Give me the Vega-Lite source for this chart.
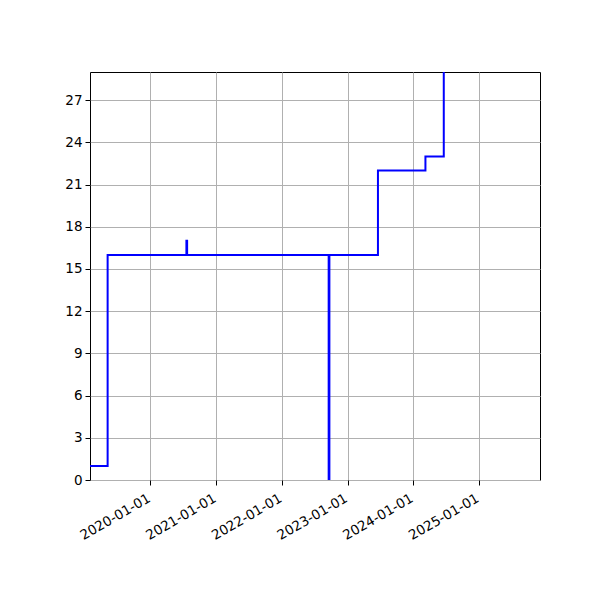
{
  "$schema": "https://vega.github.io/schema/vega-lite/v6.json",
  "autosize": {"type": "none"},
  "padding": {"left": 90, "top": 72, "right": 60, "bottom": 120},
  "width": 450,
  "height": 408,
  "background": "white",
  "config": {
    "view": {"stroke": "black", "strokeWidth": 1},
    "font": "DejaVu Sans",
    "axis": {
      "labelFont": "DejaVu Sans",
      "labelFontSize": 13.5,
      "labelColor": "black",
      "domain": false,
      "tickColor": "black",
      "tickSize": 5,
      "tickWidth": 1,
      "gridColor": "#b0b0b0",
      "gridWidth": 1,
      "labelPadding": 3,
      "title": null
    }
  },
  "data": {
    "values": [
      {"date": "2019-01-30", "value": 1},
      {"date": "2019-05-08", "value": 16},
      {"date": "2020-07-19", "value": 17},
      {"date": "2020-07-23", "value": 16},
      {"date": "2022-09-18", "value": 0},
      {"date": "2022-09-22", "value": 16},
      {"date": "2023-06-19", "value": 22},
      {"date": "2024-03-09", "value": 23},
      {"date": "2024-06-19", "value": 31},
      {"date": "2025-12-06", "value": 31}
    ]
  },
  "mark": {"type": "line", "interpolate": "step-after", "color": "#0000ff", "strokeWidth": 2, "clip": true},
  "encoding": {
    "x": {
      "field": "date",
      "type": "temporal",
      "scale": {"type": "utc", "nice": false, "padding": 0},
      "axis": {
        "format": "%Y-%m-%d",
        "values": ["2020-01-01", "2021-01-01", "2022-01-01", "2023-01-01", "2024-01-01", "2025-01-01"],
        "labelAngle": -30,
        "labelAlign": "right",
        "labelBaseline": "top",
        "labelPadding": 6,
        "labelOffset": -5,
        "labelFlush": false,
        "labelOverlap": false
      }
    },
    "y": {
      "field": "value",
      "type": "quantitative",
      "scale": {"domain": [0, 29], "nice": false, "zero": true},
      "axis": {"values": [0, 3, 6, 9, 12, 15, 18, 21, 24, 27]}
    }
  }
}
